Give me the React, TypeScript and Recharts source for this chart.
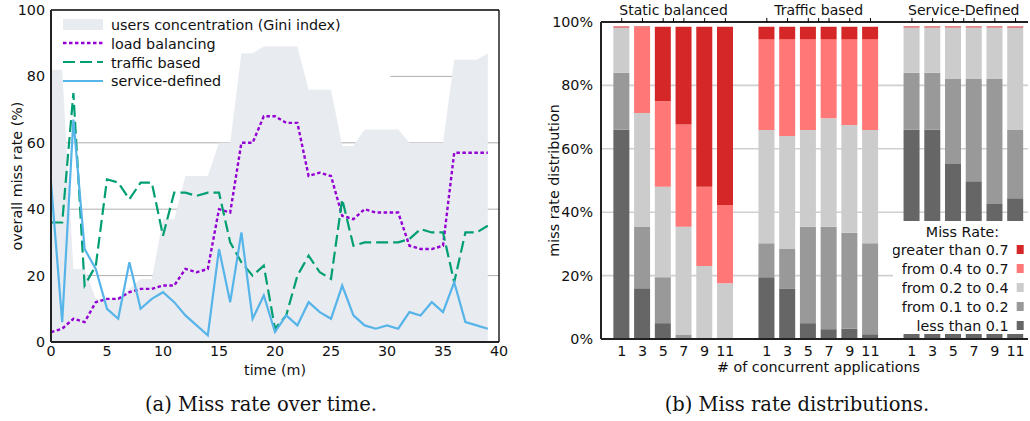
import React from 'react';
import {
  ComposedChart,
  Area,
  Line,
  XAxis,
  YAxis,
  CartesianGrid,
  ReferenceLine,
  BarChart,
  Bar,
} from 'recharts';

// ---------- (a) Miss rate over time ----------
const time = [0, 1, 2, 3, 4, 5, 6, 7, 8, 9, 10, 11, 12, 13, 14, 15, 16, 17, 18, 19, 20, 21, 22, 23, 24, 25, 26, 27, 28, 29, 30, 31, 32, 33, 34, 35, 36, 37, 38, 39];
const giniIndex = [82, 82, 22, 22, 13, 13, 13, 16, 19, 19, 37, 37, 50, 50, 50, 60, 60, 87, 87, 89, 89, 89, 89, 76, 76, 76, 59, 59, 64, 64, 64, 64, 60, 60, 60, 60, 85, 85, 85, 87];
const loadBalancing = [3, 4, 7, 6, 12, 13, 13, 15, 16, 16, 17, 17, 22, 21, 22, 40, 39, 60, 60, 68, 68, 66, 66, 50, 51, 50, 38, 37, 40, 39, 39, 39, 29, 28, 28, 29, 57, 57, 57, 57];
const trafficBased = [36, 36, 75, 17, 23, 49, 48, 43, 48, 48, 32, 45, 45, 44, 45, 45, 30, 24, 20, 23, 4, 8, 20, 26, 21, 19, 43, 29, 30, 30, 30, 30, 31, 34, 33, 33, 18, 33, 33, 35];
const serviceDefined = [48, 6, 67, 28, 22, 10, 7, 24, 10, 13, 15, 12, 8, 5, 2, 28, 12, 33, 7, 14, 3, 8, 5, 12, 9, 7, 17, 8, 5, 4, 5, 4, 9, 8, 12, 9, 18, 6, 5, 4];
const timeTicks = [0, 5, 10, 15, 20, 25, 30, 35, 40];
const missTicks = [0, 20, 40, 60, 80, 100];
const missGrid = [20, 40, 60];
const lineLegend = ['users concentration (Gini index)', 'load balancing', 'traffic based', 'service-defined'];

// ---------- (b) Miss rate distributions ----------
const groupNames = ['Static balanced', 'Traffic based', 'Service-Defined'];
const appCounts = ['1', '3', '5', '7', '9', '11'];
const lessThan01 = [66, 16, 5, 0, 0, 0, 19.5, 15.8, 5, 3.1, 3.3, 1.5, 66, 66, 55.2, 49.8, 42.6, 44.4];
const from01to02 = [18, 19.5, 14.5, 1.3, 0, 0, 10.7, 12.6, 30.4, 32.3, 30.2, 28.7, 18, 18, 26.8, 32.2, 39.4, 21.5];
const from02to04 = [14.3, 35.8, 28.5, 34.1, 23, 17.6, 35.7, 35.6, 30.5, 34.2, 34, 35.7, 14.3, 14.3, 16.3, 16.3, 16.3, 32.4];
const from04to07 = [0, 27, 27, 32.3, 25, 24.7, 28.7, 30.6, 28.7, 25, 27.1, 28.7, 0, 0, 0, 0, 0, 0];
const greaterThan07 = [0.3, 0.3, 23.5, 30.8, 50.5, 56.2, 3.9, 3.9, 3.9, 3.9, 3.9, 3.9, 0.3, 0.3, 0.3, 0.3, 0.3, 0.3];
const distTicks = [0, 20, 40, 60, 80, 100];
const distLegend = ['greater than 0.7', 'from 0.4 to 0.7', 'from 0.2 to 0.4', 'from 0.1 to 0.2', 'less than 0.1'];

const FONT = "'DejaVu Sans', 'Noto Sans', sans-serif";
const SERIF = "'DejaVu Serif', 'Liberation Serif', serif";
const C_AREA = '#e8ebf0';
const C_LB = '#9400d3';
const C_TB = '#009e73';
const C_SD = '#56b4e9';
const C_LT01 = '#666666';
const C_0102 = '#999999';
const C_0204 = '#cccccc';
const C_0407 = '#ff7777';
const C_GT07 = '#d62728';
const TXT = '#111111';

export default function App() {
  const lineData = time.map((t, i) => ({
    t,
    gini: giniIndex[i],
    lb: loadBalancing[i],
    tb: trafficBased[i],
    sd: serviceDefined[i],
  }));

  const barData: any[] = [];
  groupNames.forEach((_, gi) => {
    appCounts.forEach((app, ai) => {
      const k = gi * 6 + ai;
      barData.push({
        pos: gi * 7 + ai,
        app,
        lt01: lessThan01[k],
        r0102: from01to02[k],
        r0204: from02to04[k],
        r0407: from04to07[k],
        gt07: greaterThan07[k],
      });
    });
  });
  const barTicks = barData.map((d) => d.pos);
  const groupCenters = [2.5, 9.5, 16.5];
  const topTicks = [...barTicks, ...groupCenters].sort((a, b) => a - b);

  const TopTick = (props: any) => {
    const { x, y, payload } = props;
    const gi = groupCenters.indexOf(payload.value);
    if (gi < 0) return <g />;
    return (
      <text x={x} y={y} textAnchor="middle" fontSize={14} fill={TXT} fontFamily={FONT}>
        {groupNames[gi]}
      </text>
    );
  };

  const tickStyle = { fill: TXT, fontSize: 14.3, fontFamily: FONT };
  const legendColors = [C_GT07, C_0407, C_0204, C_0102, C_LT01];

  return (
    <div style={{ position: 'absolute', left: 0, top: 0, width: 1030, height: 421, background: '#fff', fontFamily: FONT }}>
      {/* (a) */}
      <div style={{ position: 'absolute', left: 0, top: 0 }}>
        <ComposedChart width={520} height={385} data={lineData} margin={{ top: 10, right: 21, bottom: 0, left: 0 }}>
          <CartesianGrid vertical={false} stroke="#b0b0b0" strokeWidth={1} horizontalValues={missGrid} />
          <XAxis
            dataKey="t"
            type="number"
            domain={[0, 40]}
            ticks={timeTicks}
            height={43}
            tickLine={false}
            tickSize={2}
            tickMargin={2}
            axisLine={{ stroke: '#222', strokeWidth: 2 }}
            tick={tickStyle}
            label={{ value: 'time (m)', position: 'insideBottom', offset: 10, style: { fill: TXT, fontSize: 14.3, fontFamily: FONT } }}
          />
          <XAxis
            xAxisId="top"
            orientation="top"
            dataKey="t"
            type="number"
            domain={[0, 40]}
            ticks={timeTicks}
            mirror
            tick={false}
            tickSize={5}
            tickLine={{ stroke: '#000' }}
            axisLine={{ stroke: '#000', strokeWidth: 1.3 }}
          />
          <YAxis
            type="number"
            domain={[0, 100]}
            ticks={missTicks}
            width={51}
            tickLine={false}
            tickSize={4}
            tickMargin={2}
            axisLine={{ stroke: '#222', strokeWidth: 2 }}
            tick={tickStyle}
            label={{ value: 'overall miss rate (%)', angle: -90, position: 'insideLeft', offset: 17, style: { textAnchor: 'middle', fill: TXT, fontSize: 14.3, fontFamily: FONT } }}
          />
          <YAxis
            yAxisId="right"
            orientation="right"
            type="number"
            domain={[0, 100]}
            ticks={missTicks}
            mirror
            tick={false}
            tickSize={5}
            tickLine={{ stroke: '#000' }}
            axisLine={{ stroke: '#000', strokeWidth: 1.3 }}
          />
          <Area type="linear" dataKey="gini" fill={C_AREA} fillOpacity={1} stroke="none" isAnimationActive={false} />
          <ReferenceLine
            segment={[
              { x: 30.3, y: 80 },
              { x: 35.8, y: 80 },
            ]}
            stroke="#b0b0b0"
            strokeWidth={1}
          />
          <Line type="linear" dataKey="lb" stroke={C_LB} strokeWidth={2.4} strokeDasharray="3.5 2.5" dot={false} activeDot={false} isAnimationActive={false} />
          <Line type="linear" dataKey="tb" stroke={C_TB} strokeWidth={2.2} strokeDasharray="12 5" dot={false} activeDot={false} isAnimationActive={false} />
          <Line type="linear" dataKey="sd" stroke={C_SD} strokeWidth={2.2} dot={false} activeDot={false} isAnimationActive={false} />
        </ComposedChart>
      </div>
      <svg style={{ position: 'absolute', left: 0, top: 0 }} width={360} height={95}>
        <rect x={63} y={19} width={40} height={11} fill={C_AREA} />
        <line x1={63} x2={103} y1={43} y2={43} stroke={C_LB} strokeWidth={2.4} strokeDasharray="3.5 2.5" />
        <line x1={63} x2={103} y1={62} y2={62} stroke={C_TB} strokeWidth={2.2} strokeDasharray="12 5" />
        <line x1={63} x2={103} y1={81} y2={81} stroke={C_SD} strokeWidth={2.2} />
        {lineLegend.map((s, i) => (
          <text key={s} x={111} y={30 + i * 18.8} fontSize={14.3} fill={TXT} fontFamily={FONT}>
            {s}
          </text>
        ))}
      </svg>

      {/* (b) */}
      <div style={{ position: 'absolute', left: 500, top: 0 }}>
        <BarChart width={530} height={385} data={barData} margin={{ top: 0, right: 2, bottom: 0, left: 0 }}>
          <CartesianGrid vertical={false} stroke="#d0d0d0" strokeWidth={1.6} />
          <XAxis
            dataKey="pos"
            type="number"
            domain={[-1, 19.6]}
            ticks={barTicks}
            tickFormatter={(v: number) => {
              const d = barData.find((b) => b.pos === v);
              return d ? d.app : '';
            }}
            height={46}
            tickLine={false}
            tickSize={4}
            tickMargin={3}
            axisLine={{ stroke: '#222', strokeWidth: 2 }}
            tick={tickStyle}
            interval={0}
            label={{ value: '# of concurrent applications', position: 'insideBottom', offset: 13, dx: 4, style: { fill: TXT, fontSize: 14.3, fontFamily: FONT } }}
          />
          <XAxis
            xAxisId="top"
            orientation="top"
            dataKey="pos"
            type="number"
            domain={[-1, 19.6]}
            ticks={topTicks}
            interval={0}
            height={22}
            tickSize={4}
            tickMargin={3}
            tickLine={{ stroke: '#000' }}
            axisLine={{ stroke: '#222', strokeWidth: 2 }}
            tick={<TopTick />}
          />
          <YAxis
            type="number"
            domain={[0, 100]}
            ticks={distTicks}
            tickFormatter={(v: number) => `${v}%`}
            width={101}
            tickLine={false}
            axisLine={{ stroke: '#222', strokeWidth: 2 }}
            tick={tickStyle}
            label={{ value: 'miss rate distribution', angle: -90, position: 'insideLeft', offset: 54, style: { textAnchor: 'middle', fill: TXT, fontSize: 14.3, fontFamily: FONT } }}
          />
          <Bar dataKey="lt01" stackId="s" fill={C_LT01} barSize={16} isAnimationActive={false} />
          <Bar dataKey="r0102" stackId="s" fill={C_0102} barSize={16} isAnimationActive={false} />
          <Bar dataKey="r0204" stackId="s" fill={C_0204} barSize={16} isAnimationActive={false} />
          <Bar dataKey="r0407" stackId="s" fill={C_0407} barSize={16} isAnimationActive={false} />
          <Bar dataKey="gt07" stackId="s" fill={C_GT07} barSize={16} isAnimationActive={false} />
        </BarChart>
      </div>
      <svg style={{ position: 'absolute', left: 893, top: 221, background: '#fff' }} width={137} height={113}>
        <text x={69.5} y={16} textAnchor="middle" fontSize={14.3} fill={TXT} fontFamily={FONT}>
          Miss Rate:
        </text>
        {distLegend.map((s, i) => (
          <g key={s}>
            <text x={115.5} y={34 + i * 19} textAnchor="end" fontSize={14.3} fill={TXT} fontFamily={FONT}>
              {s}
            </text>
            <rect x={123.7} y={24 + i * 19} width={7} height={9} fill={legendColors[i]} />
          </g>
        ))}
      </svg>

      {/* captions */}
      <div style={{ position: 'absolute', left: 61, width: 400, top: 393, textAlign: 'center', fontFamily: SERIF, fontSize: 19.5, lineHeight: '24px', color: '#111' }}>
        (a) Miss rate over time.
      </div>
      <div style={{ position: 'absolute', left: 597, width: 400, top: 393, textAlign: 'center', fontFamily: SERIF, fontSize: 19.5, lineHeight: '24px', color: '#111' }}>
        (b) Miss rate distributions.
      </div>
    </div>
  );
}
